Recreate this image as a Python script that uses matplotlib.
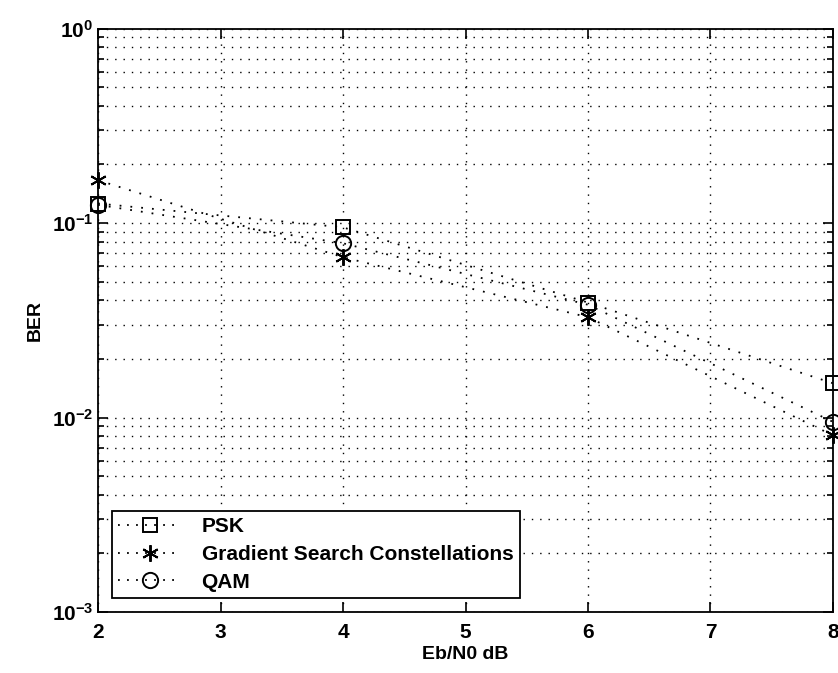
import matplotlib
matplotlib.use('Agg')
import matplotlib.pyplot as plt
from matplotlib.ticker import FixedLocator, FixedFormatter
import numpy as np

plt.rcParams['font.family'] = ['Liberation Sans', 'DejaVu Sans']
plt.rcParams['font.weight'] = 'bold'
plt.rcParams['mathtext.fontset'] = 'custom'
plt.rcParams['mathtext.rm'] = 'Liberation Sans:bold'
plt.rcParams['mathtext.default'] = 'rm'

ebn0 = [2, 4, 6, 8]
ber_psk = [0.126, 0.095, 0.039, 0.015]
ber_gsc = [0.166, 0.0667, 0.0328, 0.0081]
ber_qam = [0.124, 0.0787, 0.038, 0.0095]
labels = ['PSK', 'Gradient Search Constellations', 'QAM']
ytick_vals = [1e-3, 1e-2, 1e-1, 1e0]
ytick_labels = ['$10^{-3}$', '$10^{-2}$', '$10^{-1}$', '$10^{0}$']

fig = plt.figure(figsize=(8.38, 6.73), dpi=100)
ax = fig.add_axes([0.117, 0.0906, 0.877, 0.867])

dots = (0, (1, 5))
style = dict(color='k', linestyle=dots, linewidth=1.3, markerfacecolor='none',
             markeredgecolor='k', markeredgewidth=1.4, clip_on=False)
ax.semilogy(ebn0, ber_psk, marker='s', markersize=10, label=labels[0], **style)
ax.semilogy(ebn0, ber_gsc, marker=(6, 2, 0), markersize=12, label=labels[1], **style)
ax.semilogy(ebn0, ber_qam, marker='o', markersize=11, label=labels[2], **style)

ax.set_xlim(2, 8)
ax.set_ylim(1e-3, 1e0)
ax.yaxis.set_major_locator(FixedLocator(ytick_vals))
ax.yaxis.set_major_formatter(FixedFormatter(ytick_labels))
ax.grid(True, which='major', color='k', linestyle=dots, linewidth=1.0)
ax.grid(True, which='minor', axis='y', color='k', linestyle=dots, linewidth=1.0)
ax.tick_params(which='both', direction='in', top=True, right=True, labelsize=15)
ax.tick_params(which='major', length=7, width=1.2)
ax.tick_params(which='minor', length=4, width=1.2)
ax.tick_params(axis='x', pad=8)
for s in ax.spines.values():
    s.set_linewidth(1.3)

ax.set_xlabel('Eb/N0 dB', fontsize=14, fontweight='bold', labelpad=3)
ax.set_ylabel('BER', fontsize=14, fontweight='bold', labelpad=6)

leg = ax.legend(loc='lower left', fontsize=15, fancybox=False, framealpha=1,
                edgecolor='k', bbox_to_anchor=(0.019, 0.024), borderaxespad=0,
                handlelength=3.0, handletextpad=1.0, borderpad=0.3,
                labelspacing=0.42)
leg.get_frame().set_linewidth(1.3)
for h in leg.get_lines():
    h.set_linestyle((0, (1, 4)))

fig.savefig('out.png', dpi=100)
